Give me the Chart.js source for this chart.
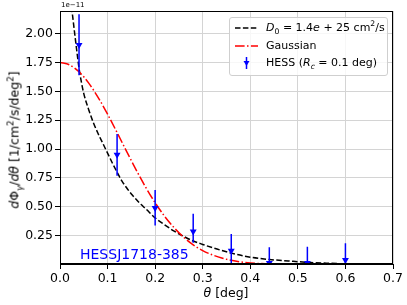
<!DOCTYPE html>
<html>
<head>
<meta charset="utf-8">
<script src="https://cdn.jsdelivr.net/npm/chart.js@4.4.1/dist/chart.umd.min.js"></script>
<style>
  html, body { margin:0; padding:0; background:#fff; }
  #wrap { position:relative; width:407px; height:305px; font-family:"DejaVu Sans", sans-serif; color:#000; }
  #c { position:absolute; left:0; top:0; }
  .ov { position:absolute; white-space:nowrap; }
  #legend { position:absolute; left:229px; top:17px; width:157px; height:57px; border:1px solid #cfcfcf; border-radius:3px; background:rgba(255,255,255,0.8); font-size:11px; }
  .row { position:absolute; left:0; height:14px; line-height:14px; }
  .row svg { position:absolute; left:5px; top:0; }
  .row span { position:absolute; left:36px; top:0; white-space:nowrap; }
  sub, sup { font-size:70%; line-height:0; }
</style>
</head>
<body>
<div id="wrap">
  <canvas id="c" width="407" height="305"></canvas>
  <div class="ov" style="left:61px; top:1px; font-size:7px;">1e−11</div>
  <div class="ov" style="left:80px; top:246px; font-size:14px; color:#0000ff; line-height:16px;">HESSJ1718-385</div>
  <div class="ov" style="left:226px; top:292px; font-size:12.5px; transform:translate(-50%,-50%);"><i>θ</i> [deg]</div>
  <div class="ov" style="left:14px; top:140px; font-size:12.5px; transform:translate(-50%,-50%) rotate(-90deg);"><i>d</i>Φ<sub><i>γ</i></sub>/<i>dθ</i> [1/cm<sup>2</sup>/s/deg<sup>2</sup>]</div>
  <div id="legend">
    <div class="row" style="top:3px;">
      <svg width="24" height="14"><line x1="0" y1="7" x2="23" y2="7" stroke="#000" stroke-width="1.5" stroke-dasharray="5.5,2.4"/></svg>
      <span><i>D</i><sub>0</sub> = 1.4<i>e</i> + 25 cm<sup>2</sup>/s</span>
    </div>
    <div class="row" style="top:21px;">
      <svg width="24" height="14"><line x1="0" y1="7" x2="23" y2="7" stroke="#ff0000" stroke-width="1.5" stroke-dasharray="9.6,2.4,1.5,2.4"/></svg>
      <span>Gaussian</span>
    </div>
    <div class="row" style="top:38px;">
      <svg width="24" height="14"><line x1="11.5" y1="1" x2="11.5" y2="13" stroke="#0000ff" stroke-width="1.5"/><polygon points="8.5,5 14.5,5 11.5,10" fill="#0000ff"/></svg>
      <span>HESS (<i>R</i><sub><i>c</i></sub> = 0.1 deg)</span>
    </div>
  </div>
</div>
<script>
// ---- data (units of 1e-11) ----
const thetaModel = [0.022,0.026,0.030,0.035,0.040,0.045,0.050,0.060,0.070,0.080,0.090,0.100,0.110,0.120,0.130,0.140,0.150,0.160,0.170,0.180,0.200,0.220,0.240,0.260,0.280,0.300,0.330,0.360,0.400,0.440,0.480,0.520,0.560,0.600,0.650];
const modelD0    = [2.30,2.17,2.03,1.86,1.70,1.58,1.48,1.345,1.23,1.135,1.05,0.965,0.88,0.80,0.725,0.665,0.612,0.565,0.522,0.484,0.405,0.345,0.29,0.245,0.205,0.175,0.135,0.10,0.065,0.045,0.032,0.020,0.013,0.007,0.003];
const thetaGauss = [0.00,0.02,0.04,0.06,0.08,0.10,0.12,0.14,0.16,0.18,0.20,0.22,0.24,0.26,0.28,0.30,0.32,0.34,0.36,0.38,0.40,0.44,0.48,0.52,0.60,0.65];
const gaussVals  = [1.75,1.729,1.669,1.573,1.448,1.302,1.143,0.980,0.821,0.671,0.536,0.418,0.319,0.237,0.172,0.122,0.085,0.057,0.038,0.024,0.015,0.006,0.002,0.0006,0.0,0.0];
const thetaHess  = [0.04,0.12,0.20,0.28,0.36,0.44,0.52,0.60];
const hessVals   = [1.90,0.95,0.49,0.286,0.12,0.015,0.015,0.04];
const hessHi     = [2.167,1.13,0.647,0.44,0.266,0.15,0.156,0.185];
const hessLo     = [1.64,0.77,0.338,0.19,0.01,0.0,0.0,0.0];
const xTicks = [0.0,0.1,0.2,0.3,0.4,0.5,0.6,0.7];
const yTicks = [0.25,0.50,0.75,1.00,1.25,1.50,1.75,2.00];
const xRange = [0, 0.7];
const yRange = [0.0057, 2.195];

const modelPts = thetaModel.map((t,i)=>({x:t, y:modelD0[i]}));
const gaussPts = thetaGauss.map((t,i)=>({x:t, y:gaussVals[i]}));
const hessPts  = thetaHess.map((t,i)=>({x:t, y:hessVals[i]}));
const errPts = [];
thetaHess.forEach((t,i)=>{ errPts.push({x:t,y:hessLo[i]}); errPts.push({x:t,y:hessHi[i]}); errPts.push({x:t,y:null}); });

const tickFont = {family:'DejaVu Sans', size:12.5};

const frame = {
  id:'frame',
  afterDraw(chart){
    const {ctx, chartArea:a} = chart;
    ctx.save();
    ctx.strokeStyle = '#000';
    ctx.lineWidth = 1;
    ctx.strokeRect(Math.round(a.left)+0.5, Math.round(a.top)+0.5, Math.round(a.right-a.left)-1, Math.round(a.bottom-a.top)-1);
    ctx.restore();
  }
};

new Chart(document.getElementById('c'), {
  type:'line',
  data:{ datasets:[
    { data:hessPts, showLine:false, pointStyle:'triangle', rotation:180, pointRadius:4, pointBackgroundColor:'#0000ff', pointBorderColor:'#0000ff', pointBorderWidth:0, order:0, clip:0 },
    { data:errPts, borderColor:'#0000ff', borderWidth:1.5, pointRadius:0, spanGaps:false, order:1, clip:0 },
    { data:gaussPts, borderColor:'#ff0000', borderWidth:1.5, borderDash:[9.6,2.4,1.5,2.4], pointRadius:0, cubicInterpolationMode:'monotone', order:2, clip:0 },
    { data:modelPts, borderColor:'#000000', borderWidth:1.5, borderDash:[5.5,2.4], pointRadius:0, cubicInterpolationMode:'monotone', order:3, clip:0 }
  ]},
  options:{
    responsive:false, animation:false, devicePixelRatio:1,
    layout:{ padding:{ left:0, right:14, top:11, bottom:0 } },
    plugins:{ legend:{display:false}, tooltip:{enabled:false} },
    scales:{
      x:{ type:'linear', min:xRange[0], max:xRange[1],
        afterBuildTicks:s=>{ s.ticks = xTicks.map(v=>({value:v})); },
        afterFit:s=>{ s.height = 41; },
        ticks:{ callback:v=>Number(v).toFixed(1), font:tickFont, color:'#000', padding:2, maxRotation:0, autoSkip:false },
        grid:{ color:'#d4d4d4', lineWidth:1, tickColor:'#000', tickLength:5 },
        border:{ color:'#000', width:1 } },
      y:{ type:'linear', min:yRange[0], max:yRange[1],
        afterBuildTicks:s=>{ s.ticks = yTicks.map(v=>({value:v})); },
        afterFit:s=>{ s.width = 60; },
        ticks:{ callback:v=>Number(v).toFixed(2), font:tickFont, color:'#000', padding:2, autoSkip:false },
        grid:{ color:'#d4d4d4', lineWidth:1, tickColor:'#000', tickLength:5 },
        border:{ color:'#000', width:1 } }
    }
  },
  plugins:[frame]
});
</script>
</body>
</html>
